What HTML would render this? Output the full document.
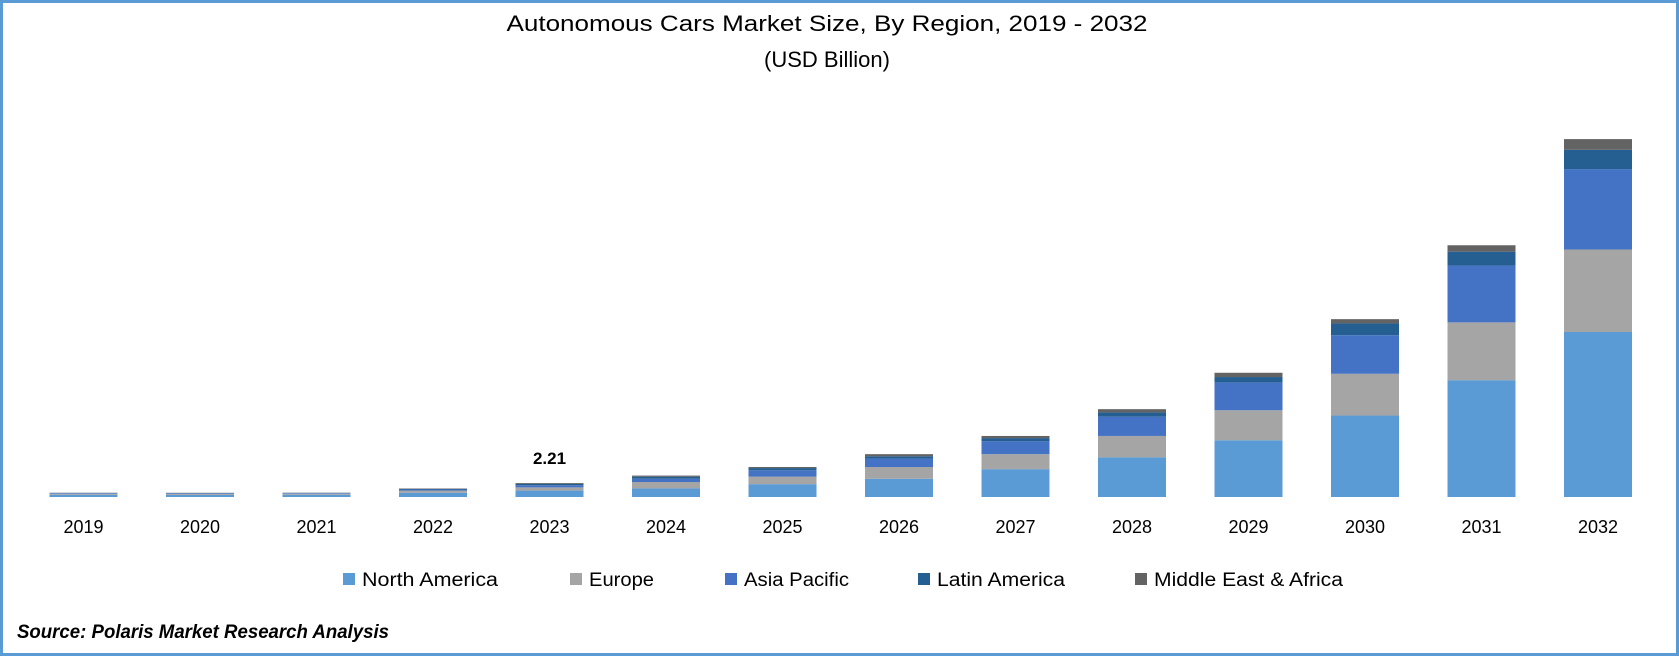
<!DOCTYPE html>
<html><head><meta charset="utf-8"><style>
html,body{margin:0;padding:0;background:#fff;}
svg{display:block;font-family:"Liberation Sans",sans-serif;}
</style></head><body>
<svg id="chart" width="1679" height="656" viewBox="0 0 1679 656" xmlns="http://www.w3.org/2000/svg">
<rect x="1.5" y="1.5" width="1676" height="653" fill="#fff" stroke="#5B9BD5" stroke-width="3"/>
<text x="827" y="31" text-anchor="middle" font-size="22" textLength="641" lengthAdjust="spacingAndGlyphs" fill="#000">Autonomous Cars Market Size, By Region, 2019 - 2032</text>
<text x="827" y="67" text-anchor="middle" font-size="22" fill="#000">(USD Billion)</text>
<g id="bars"></g>
<g id="xlabels"></g>
<g id="legend"></g>
<text x="17" y="638" font-size="19" font-weight="bold" font-style="italic" fill="#000" textLength="372" lengthAdjust="spacingAndGlyphs">Source: Polaris Market Research Analysis</text>
</svg>
<script>
const categories = ["2019","2020","2021","2022","2023","2024","2025","2026","2027","2028","2029","2030","2031","2032"];
const seriesNames = ["North America","Europe","Asia Pacific","Latin America","Middle East & Africa"];
const northAmerica = [0.34,0.33,0.35,0.68,1.02,1.36,2.04,2.89,4.42,6.29,9.01,12.93,18.54,26.19];
const europe = [0.17,0.17,0.17,0.34,0.51,1.02,1.19,1.87,2.38,3.40,4.76,6.63,9.18,13.10];
const asiaPacific = [0.09,0.09,0.09,0.17,0.34,0.51,1.02,1.36,2.04,3.06,4.42,6.12,9.01,12.76];
const latinAmerica = [0.05,0.05,0.05,0.10,0.20,0.34,0.34,0.34,0.51,0.68,0.85,1.87,2.21,3.06];
const middleEastAfrica = [0.03,0.03,0.03,0.07,0.14,0.17,0.17,0.34,0.34,0.51,0.68,0.68,1.02,1.70];
const labelIndex = 4;
const labelText = "2.21";

const colors = ["#5B9BD5","#A5A5A5","#4472C4","#255E91","#636363"];
const series = [northAmerica, europe, asiaPacific, latinAmerica, middleEastAfrica];
const NS = "http://www.w3.org/2000/svg";
const baseY = 497, pxPerUnit = 6.3;
const x0 = 83.5, step = 116.5, barW = 68;
function xScale(i){ return x0 + i*step; }
function yScale(v){ return baseY - v*pxPerUnit; }

const bars = document.getElementById('bars');
const xl = document.getElementById('xlabels');
categories.forEach((c,i)=>{
  let cum = 0;
  series.forEach((s,k)=>{
    const r = document.createElementNS(NS,'rect');
    
    
    const yTop = yScale(cum + s[i]), yBot = yScale(cum);
    r.setAttribute('x', xScale(i) - barW/2);
    r.setAttribute('y', yTop);
    r.setAttribute('width', barW);
    r.setAttribute('height', Math.max(0, yBot - yTop));
    r.setAttribute('fill', colors[k]);
    bars.appendChild(r);
    cum += s[i];
  });
  if (i === labelIndex) {
    const t = document.createElementNS(NS,'text');
    
    
    t.setAttribute('x', xScale(i));
    t.setAttribute('y', yScale(cum) - 19);
    t.setAttribute('text-anchor','middle');
    t.setAttribute('font-size','17');
    t.setAttribute('font-weight','bold');
    t.textContent = labelText;
    bars.appendChild(t);
  }
  const t = document.createElementNS(NS,'text');
  
  
  t.setAttribute('x', xScale(i));
  t.setAttribute('y', 533);
  t.setAttribute('text-anchor','middle');
  t.setAttribute('font-size','18');
  t.textContent = c;
  xl.appendChild(t);
});

const legendX = [343, 570, 725, 918, 1135];
const legendW = [136, 65, 105, 128, 189];
const lg = document.getElementById('legend');
seriesNames.forEach((n,k)=>{
  const g = document.createElementNS(NS,'g');
  
  
  const r = document.createElementNS(NS,'rect');
  r.setAttribute('x', legendX[k]); r.setAttribute('y', 573);
  r.setAttribute('width', 12); r.setAttribute('height', 12);
  r.setAttribute('fill', colors[k]);
  g.appendChild(r);
  const t = document.createElementNS(NS,'text');
  t.setAttribute('x', legendX[k] + 19); t.setAttribute('y', 586);
  t.setAttribute('font-size','19');
  t.setAttribute('textLength', legendW[k]);
  t.setAttribute('lengthAdjust','spacingAndGlyphs');
  t.textContent = n;
  g.appendChild(t);
  lg.appendChild(g);
});
</script>
</body></html>
